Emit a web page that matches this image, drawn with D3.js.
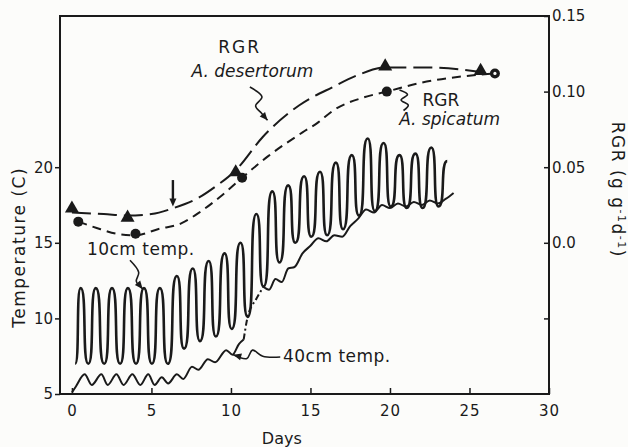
<!DOCTYPE html>
<html>
<head>
<meta charset="utf-8">
<script src="https://cdn.jsdelivr.net/npm/d3@7"></script>
<style>
  body { margin: 0; background: #fcfcfa; }
  svg { font-family: "DejaVu Sans", sans-serif; }
  .axis path { display: none; }
  .axis line { stroke: #1a1a1a; stroke-width: 1.5; }
  .axis text { font-size: 15px; fill: #1a1a1a; font-family: "DejaVu Sans", sans-serif; }
</style>
</head>
<body>
<div id="chart"></div>
<script>
// soil temperature at 10 cm (day, C)
var temp10Day = [0.2, 0.55, 1.03, 1.5, 2.03, 2.52, 3.03, 3.52, 4.03, 4.53, 5.03, 5.53, 6.03, 6.6, 7.05, 7.6, 8.05, 8.6, 9.05, 9.6, 10.05, 10.6, 11.05, 11.6, 12.05, 12.6, 13.05, 13.6, 14.05, 14.6, 15.05, 15.6, 16.05, 16.6, 17.05, 17.6, 18.05, 18.6, 19.05, 19.6, 20.05, 20.6, 21.05, 21.6, 22.05, 22.6, 23.05, 23.6]
var temp10 = [7.0, 12.0, 7.0, 12.0, 7.0, 12.0, 7.0, 12.0, 7.0, 12.0, 7.0, 12.0, 7.0, 12.8, 8.0, 13.3, 8.5, 13.8, 8.8, 14.3, 9.3, 15.0, 10.1, 16.9, 12.1, 18.4, 13.7, 18.8, 15.0, 19.4, 15.4, 19.7, 15.5, 20.3, 15.9, 20.8, 16.8, 21.9, 17.1, 21.6, 17.4, 20.8, 17.3, 20.9, 17.3, 21.3, 17.4, 20.4]

// soil temperature at 40 cm (day, C)
var temp40Day = [0.0, 0.25, 0.8, 1.25, 1.85, 2.25, 2.8, 3.25, 3.8, 4.3, 4.8, 5.2, 5.65, 6.05, 6.6, 7.0, 7.55, 7.95, 8.55, 9.0, 9.7, 10.1, 10.5, 10.8]
var temp40 = [5.1, 5.5, 6.3, 5.6, 6.3, 5.6, 6.3, 5.6, 6.3, 5.6, 6.3, 5.6, 6.1, 5.7, 6.3, 6.0, 6.8, 6.6, 7.3, 7.1, 7.9, 7.6, 8.3, 8.6]
// stretch where the 40 cm trace is dash-dotted
var gapDay = [10.8, 11.05, 11.6, 12.05]
var gapTemp = [8.6, 10.1, 11.3, 12.1]
var temp40bDay = [12.05, 12.4, 12.8, 13.2, 13.6, 14.0, 14.5, 15.0, 15.5, 16.0, 16.5, 17.0, 17.5, 18.0, 18.5, 19.0, 19.5, 20.0, 20.5, 21.0, 21.5, 22.0, 22.5, 23.0, 23.5, 24.0]
var temp40b = [12.1, 11.9, 12.6, 12.4, 13.3, 13.4, 14.3, 14.8, 15.3, 15.1, 15.5, 15.4, 16.1, 16.6, 17.2, 17.0, 17.5, 17.3, 17.6, 17.4, 17.7, 17.5, 17.8, 17.6, 17.9, 18.3]

// RGR, measured points
var desertDay = [0.0, 3.5, 10.3, 19.7, 25.7]
var desertRGR = [0.022, 0.016, 0.046, 0.116, 0.113]
var spicDay = [0.4, 4.0, 10.7, 19.8, 26.6]
var spicRGR = [0.014, 0.006, 0.043, 0.100, 0.112]

// RGR, the fitted dashed curves
var desertFitDay = [0.0, 2.0, 3.5, 5.0, 6.4, 8.0, 9.0, 10.3, 12.0, 14.3, 16.4, 18.0, 19.7, 22.5, 25.7]
var desertFit = [0.020, 0.019, 0.018, 0.019, 0.023, 0.030, 0.037, 0.048, 0.070, 0.091, 0.103, 0.111, 0.116, 0.116, 0.113]
var spicFitDay = [0.4, 1.8, 2.8, 4.0, 5.4, 6.9, 8.0, 9.5, 10.7, 12.3, 14.5, 15.4, 16.5, 18.3, 19.8, 22.0, 24.5, 26.6]
var spicFit = [0.014, 0.009, 0.006, 0.005, 0.009, 0.013, 0.020, 0.032, 0.043, 0.057, 0.073, 0.079, 0.088, 0.096, 0.100, 0.106, 0.110, 0.112]

var dayTicks = [0, 5, 10, 15, 20, 25, 30]
var tempTicks = [5, 10, 15, 20]
var rgrTicks = [-0.05, 0, 0.05, 0.10, 0.15]
var rgrTickLabels = ['', '0.0', '0.05', '0.10', '0.15']

var width = 628
var height = 447
var margin = { top: 16, right: 79, bottom: 53, left: 60 }

var x = d3.scaleLinear().domain([-0.75, 30]).range([margin.left, width - margin.right])
var yT = d3.scaleLinear().domain([5, 30]).range([height - margin.bottom, margin.top])
var yR = d3.scaleLinear().domain([-0.1, 0.15]).range([height - margin.bottom, margin.top])

var ink = '#1a1a1a'

var svg = d3.select('#chart')
    .append('svg')
    .attr('width', width)
    .attr('height', height)

// frame
svg.append('rect')
    .attr('x', x(-0.75))
    .attr('y', yT(30))
    .attr('width', x(30) - x(-0.75))
    .attr('height', yT(5) - yT(30))
    .style('fill', 'none')
    .style('stroke', ink)
    .style('stroke-width', 2)

// axes
svg.append('g')
    .attr('class', 'axis')
    .attr('transform', 'translate(' + x(-0.75) + ',0)')
    .call(d3.axisLeft(yT).tickValues(tempTicks).tickSize(5).tickPadding(2).tickFormat(d3.format('d')))
svg.append('g')
    .attr('class', 'axis')
    .attr('transform', 'translate(0,' + yT(5) + ')')
    .call(d3.axisBottom(x).tickValues(dayTicks).tickSize(-6).tickPadding(11).tickFormat(d3.format('d')))
    .selectAll('text').style('letter-spacing', '1px')
svg.append('g')
    .attr('class', 'axis')
    .attr('transform', 'translate(' + x(30) + ',0)')
    .call(d3.axisRight(yR).tickValues(rgrTicks).tickSize(-5).tickPadding(3)
        .tickFormat(function (d, i) { return rgrTickLabels[i] }))

// axis titles
svg.append('text')
    .attr('transform', 'translate(25,' + yT(14.7) + ') rotate(-90)')
    .style('text-anchor', 'middle')
    .style('font-size', '17px')
    .style('letter-spacing', '1.5px')
    .style('fill', ink)
    .text('Temperature  (C)')
svg.append('text')
    .attr('x', x(13.2))
    .attr('y', 444)
    .style('text-anchor', 'middle')
    .style('font-size', '16px')
    .style('fill', ink)
    .text('Days')
var rt = svg.append('text')
    .attr('transform', 'translate(612,' + yR(0.035) + ') rotate(90)')
    .style('text-anchor', 'middle')
    .style('font-size', '17px')
    .style('letter-spacing', '1.5px')
    .style('fill', ink)
rt.append('tspan').text('RGR    (g g')
rt.append('tspan').attr('dy', -6).style('font-size', '11px').text('-1')
rt.append('tspan').attr('dy', 6).text('d')
rt.append('tspan').attr('dy', -6).style('font-size', '11px').text('-1')
rt.append('tspan').attr('dy', 6).text(')')

function zip(a, b) { return a.map(function (d, i) { return [d, b[i]] }) }

// diurnal swing: flat at each high/low, steep in between
function curveSwing(context) {
    var x0, y0, first
    return {
        areaStart: function () {},
        areaEnd: function () {},
        lineStart: function () { first = true },
        lineEnd: function () {},
        point: function (px, py) {
            if (first) {
                context.moveTo(px, py)
                first = false
            } else {
                var k = 0.85 * (px - x0)
                context.bezierCurveTo(x0 + k, y0, px - k, py, px, py)
            }
            x0 = px
            y0 = py
        }
    }
}

var swingLine = d3.line()
    .x(function (d) { return x(d[0]) })
    .y(function (d) { return yT(d[1]) })
    .curve(curveSwing)
var tLine = d3.line()
    .x(function (d) { return x(d[0]) })
    .y(function (d) { return yT(d[1]) })
    .curve(d3.curveMonotoneX)
var rLine = d3.line()
    .x(function (d) { return x(d[0]) })
    .y(function (d) { return yR(d[1]) })
    .curve(d3.curveMonotoneX)

// temperature traces
svg.append('path')
    .attr('d', swingLine(zip(temp10Day, temp10)))
    .style('fill', 'none')
    .style('stroke', ink)
    .style('stroke-width', 2.6)
svg.append('path')
    .attr('d', tLine(zip(temp40Day, temp40)))
    .style('fill', 'none')
    .style('stroke', ink)
    .style('stroke-width', 2)
svg.append('path')
    .attr('d', tLine(zip(gapDay, gapTemp)))
    .style('fill', 'none')
    .style('stroke', ink)
    .style('stroke-width', 2)
    .style('stroke-dasharray', '6,3,2,3')
svg.append('path')
    .attr('d', tLine(zip(temp40bDay, temp40b)))
    .style('fill', 'none')
    .style('stroke', ink)
    .style('stroke-width', 2)

// RGR curves
svg.append('path')
    .attr('d', rLine(zip(desertFitDay, desertFit)))
    .style('fill', 'none')
    .style('stroke', ink)
    .style('stroke-width', 2)
    .style('stroke-dasharray', '19,7')
svg.append('path')
    .attr('d', rLine(zip(spicFitDay, spicFit)))
    .style('fill', 'none')
    .style('stroke', ink)
    .style('stroke-width', 2)
    .style('stroke-dasharray', '9,6')

svg.selectAll('.tri')
    .data(zip(desertDay, desertRGR))
    .enter().append('path')
    .attr('class', 'tri')
    .attr('d', d3.symbol().type(d3.symbolTriangle).size(85))
    .attr('transform', function (d) { return 'translate(' + x(d[0]) + ',' + (yR(d[1]) - 1) + ')' })
    .style('fill', ink)
svg.selectAll('.dot')
    .data(zip(spicDay, spicRGR))
    .enter().append('circle')
    .attr('class', 'dot')
    .attr('cx', function (d) { return x(d[0]) })
    .attr('cy', function (d) { return yR(d[1]) })
    .attr('r', 5)
    .style('fill', ink)
// last spicatum point is drawn as an open-centred dot
svg.append('circle')
    .attr('cx', x(spicDay[4]))
    .attr('cy', yR(spicRGR[4]))
    .attr('r', 1.6)
    .style('fill', '#fcfcfa')

// annotations, placed in data units (day, temperature)
function note(str, d, t, italic, anchor) {
    return svg.append('text')
        .attr('x', x(d))
        .attr('y', yT(t))
        .style('text-anchor', anchor || 'middle')
        .style('font-size', '17px')
        .style('font-style', italic ? 'italic' : 'normal')
        .style('fill', ink)
        .text(str)
}
note('RGR', 10.55, 27.55).style('letter-spacing', '2px')
note('A. desertorum', 11.35, 25.95, true)
note('RGR', 23.2, 24.05)
note('A. spicatum', 23.75, 22.8, true)
note('10cm  temp.', 0.94, 14.2, false, 'start').style('letter-spacing', '0.5px')
note('40cm  temp.', 13.27, 7.12, false, 'start').style('letter-spacing', '0.5px')

var squiggle = d3.line()
    .x(function (d) { return x(d[0]) })
    .y(function (d) { return yT(d[1]) })
    .curve(d3.curveCatmullRom)

function arrowHead(p, q) {
    // small filled head at q, pointing away from p
    var x0 = x(p[0]), y0 = yT(p[1]), x1 = x(q[0]), y1 = yT(q[1])
    var a = Math.atan2(y1 - y0, x1 - x0)
    var L = 8, W = 3.5
    var bx = x1 - L * Math.cos(a), by = y1 - L * Math.sin(a)
    svg.append('path')
        .attr('d', 'M' + x1 + ',' + y1 +
            'L' + (bx + W * Math.sin(a)) + ',' + (by - W * Math.cos(a)) +
            'L' + (bx - W * Math.sin(a)) + ',' + (by + W * Math.cos(a)) + 'Z')
        .style('fill', ink)
}

var notePaths = [
    [[11.19, 25.3], [11.95, 24.65], [11.55, 24.05], [11.9, 23.6], [12.3, 23.1]],
    [[20.6, 25.1], [21.1, 24.8], [20.7, 24.45], [21.15, 24.1], [20.85, 23.75]],
    [[3.65, 13.85], [4.2, 13.05], [4.05, 12.45], [4.45, 11.95]],
    [[13.1, 7.45], [12.0, 7.5], [11.35, 7.9], [11.0, 7.35], [10.15, 7.6]]
]
notePaths.forEach(function (pts, i) {
    svg.append('path')
        .attr('d', squiggle(pts))
        .style('fill', 'none')
        .style('stroke', ink)
        .style('stroke-width', 1.6)
    if (i !== 1) arrowHead(pts[pts.length - 2], pts[pts.length - 1])
})

// the vertical arrow over the curves
svg.append('line')
    .attr('x1', x(6.35)).attr('x2', x(6.35))
    .attr('y1', yT(19.15)).attr('y2', yT(17.9))
    .style('stroke', ink)
    .style('stroke-width', 2.4)
arrowHead([6.35, 19.15], [6.35, 17.4])
</script>
</body>
</html>
